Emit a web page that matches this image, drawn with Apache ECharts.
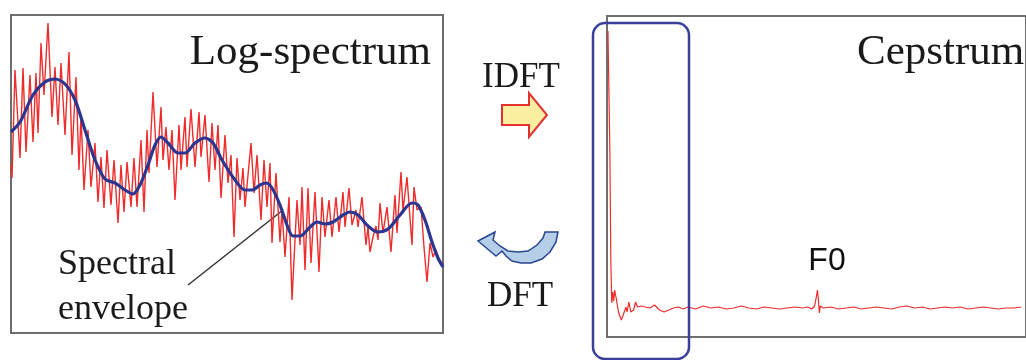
<!DOCTYPE html>
<html lang="en">
<head>
    <meta charset="UTF-8">
    <script src="https://cdn.jsdelivr.net/npm/echarts@6/dist/echarts.min.js"></script>
    <title>Log-spectrum / Cepstrum</title>
    <style>
        html, body { margin: 0; padding: 0; background: #fff; }
        #chart { width: 1026px; height: 360px; }
    </style>
</head>
<body>
<div id="chart"></div>
<script type="text/javascript">
    // log-spectrum (red), [frequency bin, level]
    var logSpectrum = [
        [0,168],[1,155],[4,263],[9,175],[12,265],[15,181],[19,258],[22,191],[25,260],[27,200],
        [30,290],[33,238],[37,310],[41,216],[44,266],[47,208],[50,270],[54,198],[58,281],[61,178],
        [65,256],[68,163],[70,218],[73,143],[77,203],[80,146],[84,190],[87,131],[90,176],[93,125],
        [96,183],[100,128],[103,173],[107,110],[110,168],[113,121],[116,171],[120,126],[123,175],[126,126],
        [130,193],[133,121],[136,203],[138,160],[142,241],[146,166],[150,226],[152,173],[155,206],[158,163],
        [161,203],[164,133],[168,208],[170,163],[174,216],[176,166],[180,224],[184,166],[188,221],[190,176],
        [194,218],[198,151],[201,210],[204,163],[207,208],[210,135],[214,198],[217,150],[220,178],[223,96],
        [226,175],[229,133],[232,165],[234,126],[240,190],[243,140],[246,178],[250,113],[253,173],[256,126],
        [259,170],[261,90],[265,160],[269,91],[271,123],[274,76],[278,136],[281,33],[286,133],[289,88],
        [291,146],[294,63],[297,145],[300,70],[304,141],[308,61],[311,136],[314,96],[318,133],[321,96],
        [325,136],[328,101],[332,141],[334,106],[338,145],[341,108],[345,123],[347,106],[351,136],[355,88],
        [357,106],[359,81],[362,96],[365,107],[367,93],[369,130],[372,100],[376,126],[380,81],[384,138],
        [386,100],[390,161],[392,123],[396,156],[401,88],[403,146],[406,123],[410,126],[413,86],[416,51],
        [419,90],[422,76],[425,83],[429,70],[432,71]
    ];

    // spectral envelope (blue)
    var envelope = [
        [0,201],[9,211],[22,238],[34,251],[44,254],[54,249],[64,233],[74,203],[84,173],[94,154],
        [104,150],[114,143],[122,139],[129,148],[137,168],[144,188],[150,196],[157,190],[167,180],[174,180],
        [184,190],[194,195],[202,190],[211,173],[224,153],[234,143],[241,143],[249,148],[255,150],[261,145],
        [269,128],[276,108],[282,97],[289,97],[299,106],[306,111],[314,109],[322,111],[332,118],[339,121],
        [347,118],[357,107],[367,101],[377,104],[389,118],[401,130],[407,128],[414,113],[421,91],[427,75],
        [432,66]
    ];

    // cepstrum (red), [quefrency, value]
    var cepstrum = [
        [1,306],[3,187],[4,77],[5,34],[6,45],[7,36],[8,47],[10,37],[12,25],[15,17],
        [17,22],[20,30],[21,25],[23,35],[25,25],[28,27],[30,35],[32,30],[36,31],[40,30],
        [45,29],[50,32],[55,27],[60,25],[65,27],[70,29],[75,30],[80,28],[85,30],[93,28],
        [101,31],[109,29],[117,30],[125,28],[133,29],[141,31],[149,29],[157,28],[165,30],[173,29],
        [181,28],[189,29],[197,30],[205,29],[211,30],[215,28],[218,31],[220,41],[221,47],[222,37],
        [223,24],[224,31],[227,29],[235,30],[243,28],[251,29],[259,30],[267,28],[275,29],[283,30],
        [291,29],[299,28],[307,30],[315,31],[323,29],[331,30],[339,28],[347,29],[355,30],[363,29],
        [371,30],[379,28],[387,29],[395,30],[403,29],[411,28],[419,29],[427,29],[435,30]
    ];

    var serif = '"Liberation Serif", "Times New Roman", serif';
    var ink = '#1a1a1a';

    var myChart = echarts.init(document.getElementById('chart'));
    var option = {
        animation: false,
        backgroundColor: '#fff',
        grid: [
            {left: 11, top: 15, width: 432, height: 318, show: true, borderColor: '#6e6e6e', borderWidth: 2, backgroundColor: 'transparent'},
            {left: 607, top: 16, width: 440, height: 321, show: true, borderColor: '#6e6e6e', borderWidth: 2, backgroundColor: 'transparent'}
        ],
        xAxis: [
            {type: 'value', gridIndex: 0, min: 0, max: 432, show: false},
            {type: 'value', gridIndex: 1, min: 0, max: 440, show: false}
        ],
        yAxis: [
            {type: 'value', gridIndex: 0, min: 0, max: 318, show: false},
            {type: 'value', gridIndex: 1, min: 0, max: 321, show: false}
        ],
        series: [
            {
                name: 'Log-spectrum', type: 'line', xAxisIndex: 0, yAxisIndex: 0,
                data: logSpectrum, showSymbol: false,
                lineStyle: {color: '#ef2b2b', width: 1.4}
            },
            {
                name: 'Spectral envelope', type: 'line', xAxisIndex: 0, yAxisIndex: 0,
                data: envelope, showSymbol: false, smooth: 0.3,
                lineStyle: {color: '#2b3690', width: 3.2}
            },
            {
                name: 'Cepstrum', type: 'line', xAxisIndex: 1, yAxisIndex: 1,
                data: cepstrum, showSymbol: false,
                lineStyle: {color: '#ef2b2b', width: 1.2}
            }
        ],
        graphic: [
            {type: 'text', x: 431, y: 53, style: {text: 'Log-spectrum', font: '43px ' + serif, fill: ink, align: 'right', verticalAlign: 'middle'}},
            {type: 'text', x: 857, y: 53, style: {text: 'Cepstrum', font: '43px ' + serif, fill: ink, align: 'left', verticalAlign: 'middle'}},
            {type: 'text', x: 521, y: 78, style: {text: 'IDFT', font: '35px ' + serif, fill: ink, align: 'center', verticalAlign: 'middle'}},
            {type: 'text', x: 520, y: 297, style: {text: 'DFT', font: '35px ' + serif, fill: ink, align: 'center', verticalAlign: 'middle'}},
            {type: 'text', x: 58, y: 265, style: {text: 'Spectral', font: '36px ' + serif, fill: ink, align: 'left', verticalAlign: 'middle'}},
            {type: 'text', x: 58, y: 310, style: {text: 'envelope', font: '36px ' + serif, fill: ink, align: 'left', verticalAlign: 'middle'}},
            {type: 'text', x: 827, y: 261, style: {text: 'F0', font: '32px "Liberation Sans", Arial, sans-serif', fill: '#111', align: 'center', verticalAlign: 'middle'}},
            // leader line to the envelope
            {type: 'line', shape: {x1: 188, y1: 285, x2: 283, y2: 210}, style: {stroke: '#333', lineWidth: 1.5}},
            // low-quefrency window
            {type: 'rect', shape: {x: 593, y: 23, width: 96, height: 336, r: 12}, style: {fill: 'none', stroke: '#3a3f9a', lineWidth: 2.5}, z: 10},
            // IDFT arrow
            {type: 'polygon', shape: {points: [[502,105],[529,105],[529,93],[547,115],[529,137],[529,125],[502,125]]},
                style: {fill: '#fbeea0', stroke: '#e53030', lineWidth: 2}},
            // DFT curved arrow
            {type: 'polygon', shape: {points: [
                [558,232],[556,242],[550,252],[542,259],[531,263],[521,263],[512,261],[506,256],[502,251],
                [496,256],[478,241],[495,232],[493,240],
                [500,246],[508,251],[518,252],[528,251],[537,245],[543,238],[545,232]
            ]}, style: {fill: '#b5cfe8', stroke: '#2a4690', lineWidth: 1.5}}
        ]
    };
    myChart.setOption(option);
</script>
</body>
</html>
